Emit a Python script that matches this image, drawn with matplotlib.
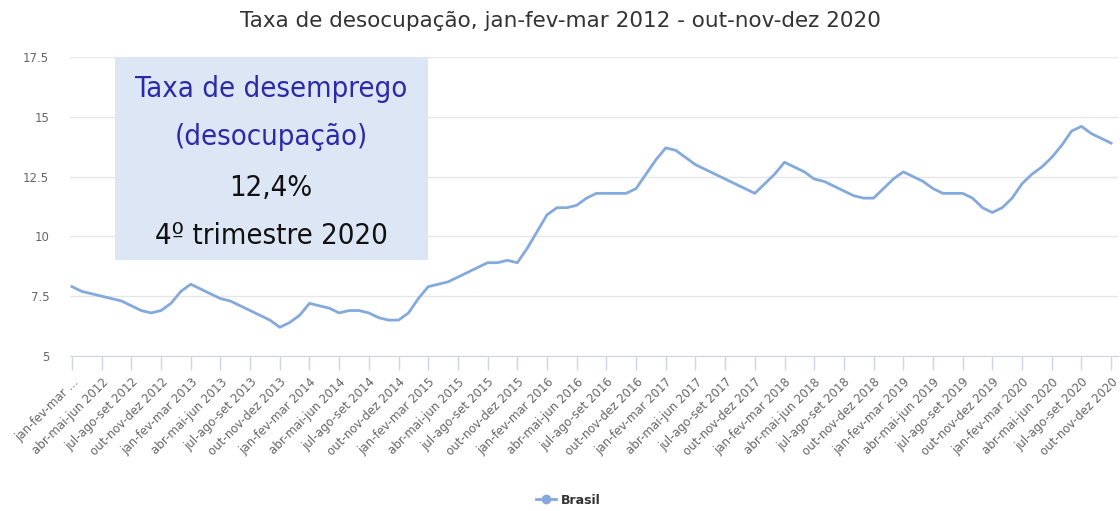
import matplotlib
matplotlib.use("Agg")
import matplotlib.pyplot as plt
from matplotlib.patches import Rectangle
from matplotlib.lines import Line2D

# trimestres moveis, jan-fev-mar 2012 .. out-nov-dez 2020
taxa_2012 = [7.9, 7.7, 7.6, 7.5, 7.4, 7.3, 7.1, 6.9, 6.8, 6.9]
taxa_2013 = [7.2, 7.7, 8.0, 7.8, 7.6, 7.4, 7.3, 7.1, 6.9, 6.7, 6.5, 6.2]
taxa_2014 = [6.4, 6.7, 7.2, 7.1, 7.0, 6.8, 6.9, 6.9, 6.8, 6.6, 6.5, 6.5]
taxa_2015 = [6.8, 7.4, 7.9, 8.0, 8.1, 8.3, 8.5, 8.7, 8.9, 8.9, 9.0, 8.9]
taxa_2016 = [9.5, 10.2, 10.9, 11.2, 11.2, 11.3, 11.6, 11.8, 11.8, 11.8, 11.8, 12.0]
taxa_2017 = [12.6, 13.2, 13.7, 13.6, 13.3, 13.0, 12.8, 12.6, 12.4, 12.2, 12.0, 11.8]
taxa_2018 = [12.2, 12.6, 13.1, 12.9, 12.7, 12.4, 12.3, 12.1, 11.9, 11.7, 11.6, 11.6]
taxa_2019 = [12.0, 12.4, 12.7, 12.5, 12.3, 12.0, 11.8, 11.8, 11.8, 11.6, 11.2, 11.0]
taxa_2020 = [11.2, 11.6, 12.2, 12.6, 12.9, 13.3, 13.8, 14.4, 14.6, 14.3, 14.1, 13.9]
brasil = taxa_2012 + taxa_2013 + taxa_2014 + taxa_2015 + taxa_2016 + taxa_2017 + taxa_2018 + taxa_2019 + taxa_2020

trimestres = ["jan-fev-mar", "abr-mai-jun", "jul-ago-set", "out-nov-dez"]
anos = list(range(2012, 2021))
tick_labels = [f"{t} {a}" for a in anos for t in trimestres]
tick_labels[0] = "jan-fev-mar ..."

y_ticks = [5, 7.5, 10, 12.5, 15, 17.5]
y_tick_labels = ["5", "7.5", "10", "12.5", "15", "17.5"]

titulo = "Taxa de desocupação, jan-fev-mar 2012 - out-nov-dez 2020"
caixa_linhas = [("Taxa de desemprego", "#2a2aa8"), ("(desocupação)", "#2a2aa8"),
                ("12,4%", "#111111"), ("4º trimestre 2020", "#111111")]

cor_linha = "#84a9dc"

fig = plt.figure(figsize=(11.2, 5.11), dpi=100)
ax = fig.add_axes([70 / 1120, 1 - 356 / 511, 1048 / 1120, 299 / 511])

x = list(range(len(brasil)))
ax.plot(x, brasil, color=cor_linha, lw=2, zorder=3, solid_joinstyle="round")

ax.set_xlim(-0.2, len(brasil) - 0.3)
ax.set_ylim(5, 17.5)
ax.set_yticks(y_ticks)
ax.set_yticklabels(y_tick_labels)
ax.set_xticks(x[::3])
ax.set_xticklabels(tick_labels, rotation=45, ha="right", rotation_mode="anchor")

for s in ["top", "right", "left"]:
    ax.spines[s].set_visible(False)
ax.spines["bottom"].set_color("#ccd6eb")
ax.grid(axis="y", color="#e6e6e6", lw=1)
ax.set_axisbelow(True)
ax.tick_params(axis="y", length=0, pad=15, labelsize=8.5, labelcolor="#666666")
ax.tick_params(axis="x", length=10, width=1, color="#ccd6eb", pad=4,
               labelsize=8.5, labelcolor="#666666")

fig.text(0.5, 1 - 21 / 511, titulo, ha="center", va="center", fontsize=15.5, color="#333333")

# caixa de destaque
fig.add_artist(Rectangle((115 / 1120, 1 - 260 / 511), 313 / 1120, 203 / 511,
                         transform=fig.transFigure, facecolor="#dde6f4", edgecolor="none", zorder=5))
ys = [89, 137, 188, 236]
for (txt, cor), yy in zip(caixa_linhas, ys):
    fig.text(271 / 1120, 1 - yy / 511, txt, ha="center", va="center", fontsize=21,
             color=cor, family=["Liberation Sans Narrow", "DejaVu Sans"], fontstretch="condensed",
             zorder=6)

# legenda
handle = Line2D([], [], color=cor_linha, lw=2, marker="o", markersize=6)
fig.legend([handle], ["Brasil"], loc="center", bbox_to_anchor=(568 / 1120, 1 - 500 / 511),
           frameon=False, prop={"weight": "bold", "size": 9}, labelcolor="#333333",
           handlelength=1.6, handletextpad=0.4)

fig.savefig("out.png", dpi=100)
